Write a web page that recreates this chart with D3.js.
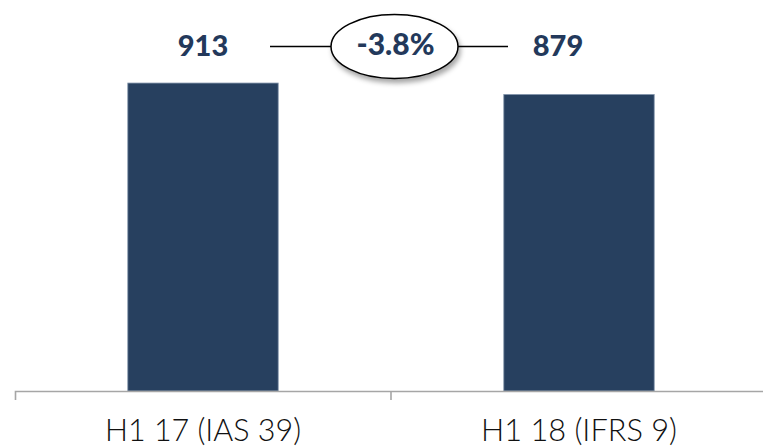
<!DOCTYPE html>
<html>
<head>
<meta charset="utf-8">
<script src="https://cdn.jsdelivr.net/npm/d3@7"></script>
<style>
  html, body { margin: 0; padding: 0; background: #fff; }
  .chart { width: 763px; height: 447px; }
</style>
</head>
<body>
<div class="chart"></div>
<script>
// données du graphique
const categories = ["H1 17 (IAS 39)", "H1 18 (IFRS 9)"];
const values = [913, 879];
const valueLabels = ["913", "879"];
const changeLabel = "-3.8%";

const width = 763;
const height = 447;
const navy = "#27405f";

const svg = d3.select(".chart").append("svg")
    .attr("width", width)
    .attr("height", height);

// ombre de l'ellipse
const defs = svg.append("defs");
defs.append("filter")
    .attr("id", "ombre")
    .attr("x", "-20%").attr("y", "-20%")
    .attr("width", "150%").attr("height", "160%")
  .append("feDropShadow")
    .attr("dx", 2).attr("dy", 4)
    .attr("stdDeviation", 2.5)
    .attr("flood-color", "#000")
    .attr("flood-opacity", 0.35);

const x = d3.scaleBand()
    .domain(categories)
    .range([15, 767])
    .padding(0);

const y = d3.scaleLinear()
    .domain([0, 1000])
    .range([391, 391 - 337.3]);

const barWidth = x.bandwidth() * 0.4;

// barres
svg.selectAll("rect.bar")
    .data(categories)
    .join("rect")
    .attr("class", "bar")
    .attr("x", d => x(d) + (x.bandwidth() - barWidth) / 2)
    .attr("y", (d, i) => y(values[i]))
    .attr("width", barWidth)
    .attr("height", (d, i) => y(0) - y(values[i]))
    .attr("fill", navy)
    .attr("stroke", "#8093aa")
    .attr("stroke-width", 0.8);

// axe des catégories
const xAxis = d3.axisBottom(x)
    .tickSizeInner(0)
    .tickSizeOuter(9)
    .tickPadding(0);

const gx = svg.append("g")
    .attr("transform", `translate(0,${y(0)})`)
    .call(xAxis);

gx.select(".domain")
    .attr("stroke", "#a6a6a6")
    .attr("stroke-width", 1.6);

gx.selectAll(".tick text")
    .attr("dy", null)
    .attr("y", 50)
    .attr("fill", "#111")
    .style("font-family", "Lato, sans-serif")
    .style("font-weight", "300")
    .style("font-size", "31px")
    .attr("textLength", 196)
    .attr("lengthAdjust", "spacingAndGlyphs");

// séparateurs entre catégories
gx.selectAll("line.sep")
    .data(categories.slice(1))
    .join("line")
    .attr("class", "sep")
    .attr("x1", d => x(d)).attr("x2", d => x(d))
    .attr("y1", 0).attr("y2", 9)
    .attr("stroke", "#a6a6a6")
    .attr("stroke-width", 1.6);

// étiquettes de valeurs
const labelShift = [0, -21];
svg.selectAll("text.val")
    .data(valueLabels)
    .join("text")
    .attr("class", "val")
    .attr("x", (d, i) => x(categories[i]) + x.bandwidth() / 2 + labelShift[i])
    .attr("y", 56)
    .attr("text-anchor", "middle")
    .attr("fill", "#23395b")
    .style("font-family", "Lato, sans-serif")
    .style("font-weight", "900")
    .style("font-size", "29px")
    .text(d => d);

// variation entre les deux périodes
const cx = 394.5, cy = 46.5;
svg.append("line")
    .attr("x1", 270).attr("x2", 331)
    .attr("y1", cy).attr("y2", cy)
    .attr("stroke", "#000").attr("stroke-width", 1.5);
svg.append("line")
    .attr("x1", 458).attr("x2", 508)
    .attr("y1", cy).attr("y2", cy)
    .attr("stroke", "#000").attr("stroke-width", 1.5);

svg.append("ellipse")
    .attr("cx", cx).attr("cy", cy)
    .attr("rx", 63.5).attr("ry", 32)
    .attr("fill", "#fff")
    .attr("stroke", "#000")
    .attr("stroke-width", 1.5)
    .attr("filter", "url(#ombre)");

svg.append("text")
    .attr("x", cx + 1)
    .attr("y", 55)
    .attr("text-anchor", "middle")
    .attr("fill", "#23395b")
    .style("font-family", "Lato, sans-serif")
    .style("font-weight", "900")
    .style("font-size", "30px")
    .text(changeLabel);
</script>
</body>
</html>
